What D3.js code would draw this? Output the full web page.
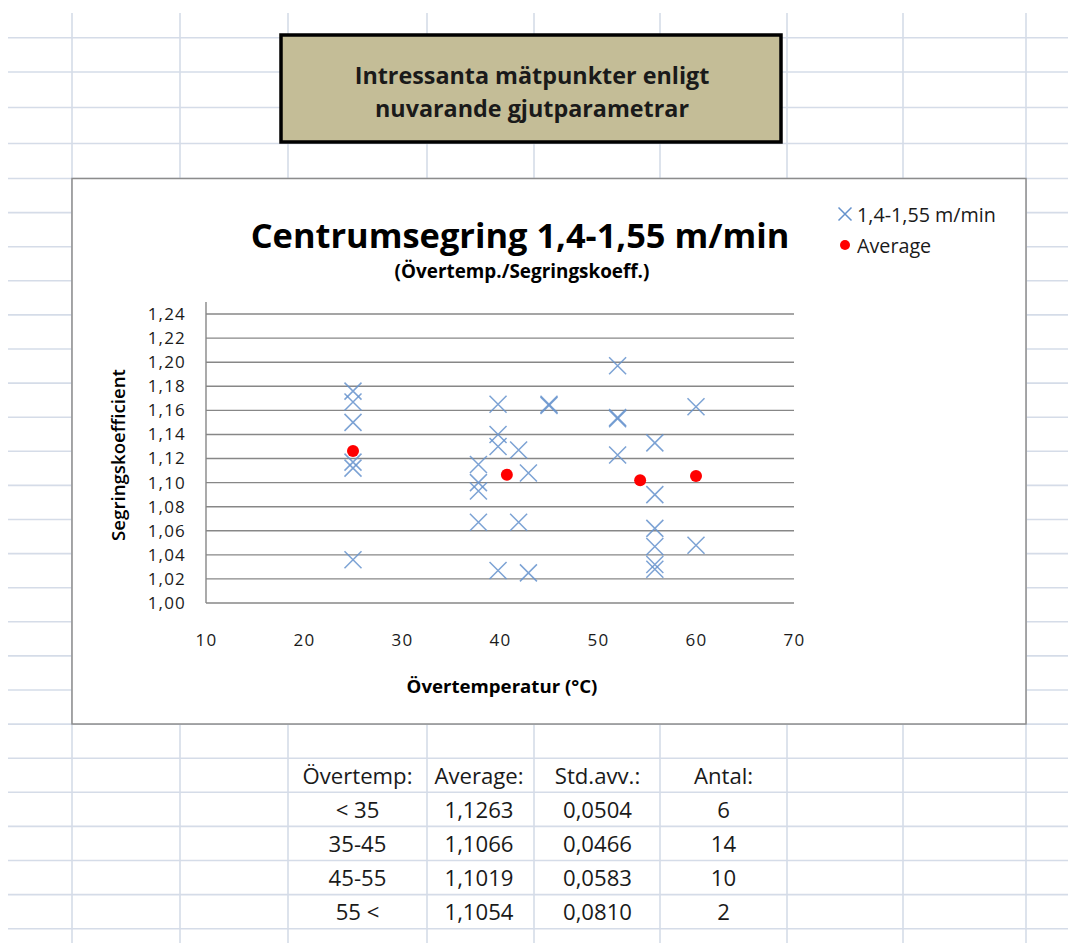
<!DOCTYPE html>
<html><head><meta charset="utf-8">
<script src="https://cdn.jsdelivr.net/npm/d3@7"></script>
<style>body{margin:0;background:#fff}svg{display:block}</style>
</head><body>
<svg id="c" width="1068" height="943"></svg>
<script>
// ---- data ----
const pointTemp = [25,25,25,25,25,25,
  37.8,37.8,37.8,37.8, 39.8,39.8,39.8,39.8, 41.9,41.9, 42.9,42.9, 45,45,
  52,52,52,52, 55.8,55.8,55.8,55.8,55.8,55.8,
  60,60];
const pointSeg = [1.176,1.167,1.150,1.117,1.112,1.036,
  1.115,1.100,1.093,1.067, 1.165,1.140,1.130,1.027, 1.127,1.067, 1.108,1.025, 1.165,1.164,
  1.197,1.154,1.153,1.123, 1.133,1.090,1.062,1.047,1.032,1.028,
  1.163,1.048];
const avgTemp = [25, 40.7, 54.3, 60];
const avgSeg = [1.1263, 1.1066, 1.1019, 1.1054];
const xTicks = [10,20,30,40,50,60,70];
const yTicks = [1.00,1.02,1.04,1.06,1.08,1.10,1.12,1.14,1.16,1.18,1.20,1.22,1.24];
const tableHeader = ["Övertemp:", "Average:", "Std.avv.:", "Antal:"];
const tempRanges = ["< 35", "35-45", "45-55", "55 <"];
const stdDevs = [0.0504, 0.0466, 0.0583, 0.0810];
const counts = [6, 14, 10, 2];
const seriesName = "1,4-1,55 m/min";
const avgName = "Average";

// ---- layout ----
const svg = d3.select("#c");
const FONT = "'Open Sans', sans-serif";
const comma = s => s.replace(".", ",");

function fitSize(text, weight, target){
  const t = svg.append("text").attr("font-family", FONT).attr("font-weight", weight)
    .attr("font-size", 100).text(text);
  const w = t.node().getComputedTextLength(); t.remove();
  return 100 * target / w;
}

// spreadsheet grid
const colX = [72,180,288,427,534,660,787,903,1026];
const rowY = [37.7,72,107.5,143.5].concat(d3.range(0,23).map(i => 178.5 + i*34.1));
const gridG = svg.append("g").attr("stroke", "#d5dce8").attr("stroke-width", 1.6);
gridG.selectAll("line.c").data(colX).join("line")
  .attr("x1", d => d).attr("x2", d => d).attr("y1", 13).attr("y2", 943);
gridG.selectAll("line.r").data(rowY).join("line")
  .attr("x1", 8).attr("x2", 1068).attr("y1", d => d).attr("y2", d => d);

// title box
svg.append("rect").attr("x", 281).attr("y", 35).attr("width", 500).attr("height", 107)
  .attr("fill", "#c4bd97").attr("stroke", "#000").attr("stroke-width", 3.5);
const boxSize = fitSize("Intressanta mätpunkter enligt", 700, 355);
["Intressanta mätpunkter enligt", "nuvarande gjutparametrar"].forEach((s, i) => {
  svg.append("text").attr("x", 532).attr("y", 75 + i*33).attr("text-anchor", "middle")
    .attr("dominant-baseline", "central").attr("font-family", FONT).attr("font-weight", 700)
    .attr("font-size", boxSize).attr("fill", "#1a1a1a").text(s);
});

// chart area
svg.append("rect").attr("x", 72).attr("y", 178.5).attr("width", 954).attr("height", 545.5)
  .attr("fill", "#fff").attr("stroke", "#8c8c8c").attr("stroke-width", 1.5);

const x = d3.scaleLinear().domain([10, 70]).range([206, 794]);
const y = d3.scaleLinear().domain([1.0, 1.25]).range([603, 302]);

// gridlines
svg.append("g").selectAll("line").data(yTicks).join("line")
  .attr("x1", x(10)).attr("x2", x(70)).attr("y1", d => y(d)).attr("y2", d => y(d))
  .attr("stroke", "#878787").attr("stroke-width", 1.4);
svg.append("line").attr("x1", x(10)).attr("x2", x(10)).attr("y1", y(1.25)).attr("y2", y(1.0))
  .attr("stroke", "#878787").attr("stroke-width", 1.4);

// y axis labels
const tickSize = 17;
const yAxis = d3.axisLeft(y).tickValues(yTicks).tickSize(0).tickPadding(20)
  .tickFormat(d => comma(d3.format(".2f")(d)));
const yg = svg.append("g").attr("transform", `translate(${x(10)},0)`).call(yAxis);
yg.select(".domain").remove();
yg.selectAll("text").attr("font-family", FONT).attr("font-size", tickSize)
  .attr("letter-spacing", 1.2).attr("fill", "#1a1a1a");

// x axis labels
const xAxis = d3.axisBottom(x).tickValues(xTicks).tickSize(0).tickPadding(0).tickFormat(d3.format("d"));
const xg = svg.append("g").attr("transform", `translate(0,640)`).call(xAxis);
xg.select(".domain").remove();
xg.selectAll("text").attr("dy", "0.35em").attr("font-family", FONT).attr("font-size", tickSize)
  .attr("letter-spacing", 1.2).attr("fill", "#1a1a1a");

// titles
svg.append("text").attr("x", 520).attr("y", 234).attr("text-anchor", "middle").attr("dominant-baseline", "central")
  .attr("font-family", FONT).attr("font-weight", 700).attr("font-size", fitSize("Centrumsegring 1,4-1,55 m/min", 700, 539))
  .attr("fill", "#000").text("Centrumsegring 1,4-1,55 m/min");
svg.append("text").attr("x", 522).attr("y", 271).attr("text-anchor", "middle").attr("dominant-baseline", "central")
  .attr("font-family", FONT).attr("font-weight", 700).attr("font-size", fitSize("(Övertemp./Segringskoeff.)", 700, 255))
  .attr("fill", "#000").text("(Övertemp./Segringskoeff.)");
svg.append("text").attr("x", 502).attr("y", 685).attr("text-anchor", "middle").attr("dominant-baseline", "central")
  .attr("font-family", FONT).attr("font-weight", 700).attr("font-size", fitSize("Övertemperatur (°C)", 700, 191))
  .attr("fill", "#000").text("Övertemperatur (°C)");
svg.append("text").attr("transform", "translate(117,455) rotate(-90)").attr("text-anchor", "middle")
  .attr("dominant-baseline", "central")
  .attr("font-family", FONT).attr("font-weight", 600).attr("font-size", fitSize("Segringskoefficient", 600, 172))
  .attr("fill", "#000").text("Segringskoefficient");

// markers
const crossPath = (cx, cy, r) => `M${cx-r},${cy-r}L${cx+r},${cy+r}M${cx-r},${cy+r}L${cx+r},${cy-r}`;
const blue = "#6592cc";
svg.append("g").selectAll("path").data(pointTemp.map((t, i) => [t, pointSeg[i]])).join("path")
  .attr("d", d => crossPath(x(d[0]), y(d[1]), 8.5))
  .attr("fill", "none").attr("stroke", blue).attr("stroke-width", 1.5).attr("stroke-opacity", 0.85);
svg.append("g").selectAll("circle").data(avgTemp.map((t, i) => [t, avgSeg[i]])).join("circle")
  .attr("cx", d => x(d[0])).attr("cy", d => y(d[1])).attr("r", 6).attr("fill", "#ff0000");

// legend
const legSize = fitSize(seriesName, 400, 139);
svg.append("path").attr("d", crossPath(845, 214, 6.5)).attr("fill", "none").attr("stroke", blue).attr("stroke-width", 1.5);
svg.append("text").attr("x", 857).attr("y", 214).attr("dominant-baseline", "central").attr("font-family", FONT)
  .attr("font-size", legSize).attr("fill", "#1a1a1a").text(seriesName);
svg.append("circle").attr("cx", 845).attr("cy", 245).attr("r", 5).attr("fill", "#ff0000");
svg.append("text").attr("x", 857).attr("y", 245).attr("dominant-baseline", "central").attr("font-family", FONT)
  .attr("font-size", legSize).attr("fill", "#1a1a1a").text(avgName);

// table
const colCenters = [357.5, 479, 597.5, 723.5];
const rowCenters = [775, 809, 843, 877, 911];
const tabSize = fitSize("Övertemp:", 400, 110);
const rows = [tableHeader].concat(tempRanges.map((r, i) => [
  r, comma(d3.format(".4f")(avgSeg[i])), comma(d3.format(".4f")(stdDevs[i])), String(counts[i])]));
rows.forEach((row, ri) => {
  row.forEach((cell, ci) => {
    svg.append("text").attr("x", colCenters[ci]).attr("y", rowCenters[ri]).attr("text-anchor", "middle")
      .attr("dominant-baseline", "central").attr("font-family", FONT).attr("font-size", tabSize)
      .attr("fill", "#1a1a1a").text(cell);
  });
});
</script>
</body></html>
